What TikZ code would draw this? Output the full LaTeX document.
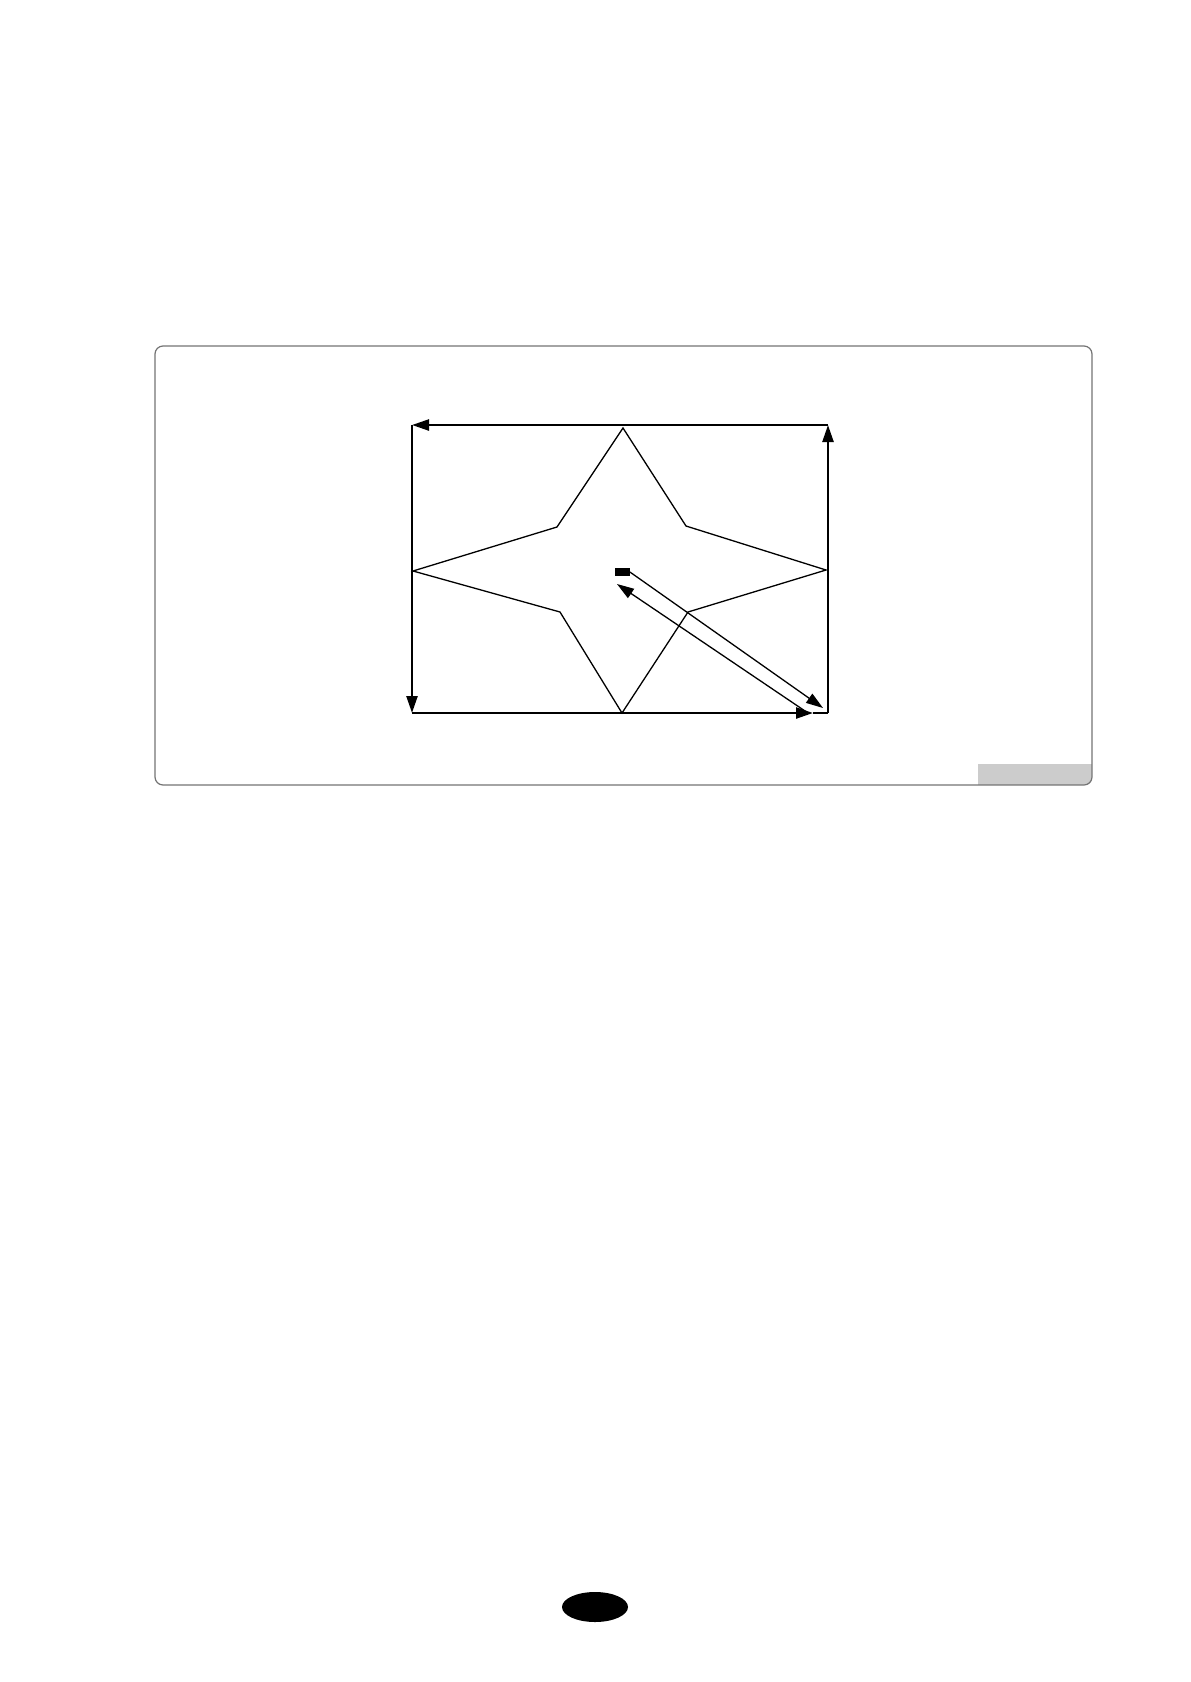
\documentclass[tikz,border=0pt]{standalone}
\usetikzlibrary{arrows.meta,shapes.geometric}
\begin{document}
\begin{tikzpicture}[x=0.5pt,y=-0.5pt,
  frame/.style={draw=black!55, line width=0.6pt, rounded corners=4pt},
  pathline/.style={draw=black, line width=1.2pt},
  thinline/.style={draw=black, line width=0.65pt},
  tip/.style={-{Triangle[length=8.5pt,width=5.5pt]}},
  startmark/.style={fill=black, minimum width=7.5pt, minimum height=4pt, inner sep=0pt, draw=none}]
\useasboundingbox (0,0) rectangle (1190,1682);
% frame with grey tab
\begin{scope}
  \clip[rounded corners=4pt] (155,346) rectangle (1092,785);
  \fill[black!20] (978,764) rectangle (1092,785);
\end{scope}
\draw[frame] (155,346) rectangle (1092,785);
% rectangle corners
\coordinate (A) at (412,425);
\coordinate (B) at (828,425);
\coordinate (C) at (828,713);
\coordinate (D) at (412,713);
\coordinate (E) at (813,713);
% star
\coordinate (T) at (623,428);
\coordinate (UR) at (686,526);
\coordinate (R) at (826,570);
\coordinate (LR) at (688,612);
\coordinate (Bt) at (622,713);
\coordinate (LL) at (560,612);
\coordinate (L) at (413,571);
\coordinate (UL) at (557,527);
\draw[thinline, line join=miter] (T) -- (UR) -- (R) -- (LR) -- (Bt) -- (LL) -- (L) -- (UL) -- cycle;
% tool path
\draw[pathline, tip] (C) -- (B);
\draw[pathline, tip] (B) -- (A);
\draw[pathline, tip] (A) -- (D);
\draw[pathline, tip] (D) -- (E);
\draw[pathline] (E) -- (C);
% start mark and diagonals
\node[startmark] (S) at (622,572) {};
\coordinate (G1) at (823,708);
\coordinate (H0) at (808,713);
\coordinate (H1) at (617,584);
\draw[thinline, tip] (S.east) -- (G1);
\draw[thinline, tip] (H0) -- (H1);
% page number marker
\node[fill=black, ellipse, minimum width=33pt, minimum height=15pt, inner sep=0pt] (pg) at (595,1607) {};
\end{tikzpicture}
\end{document}
